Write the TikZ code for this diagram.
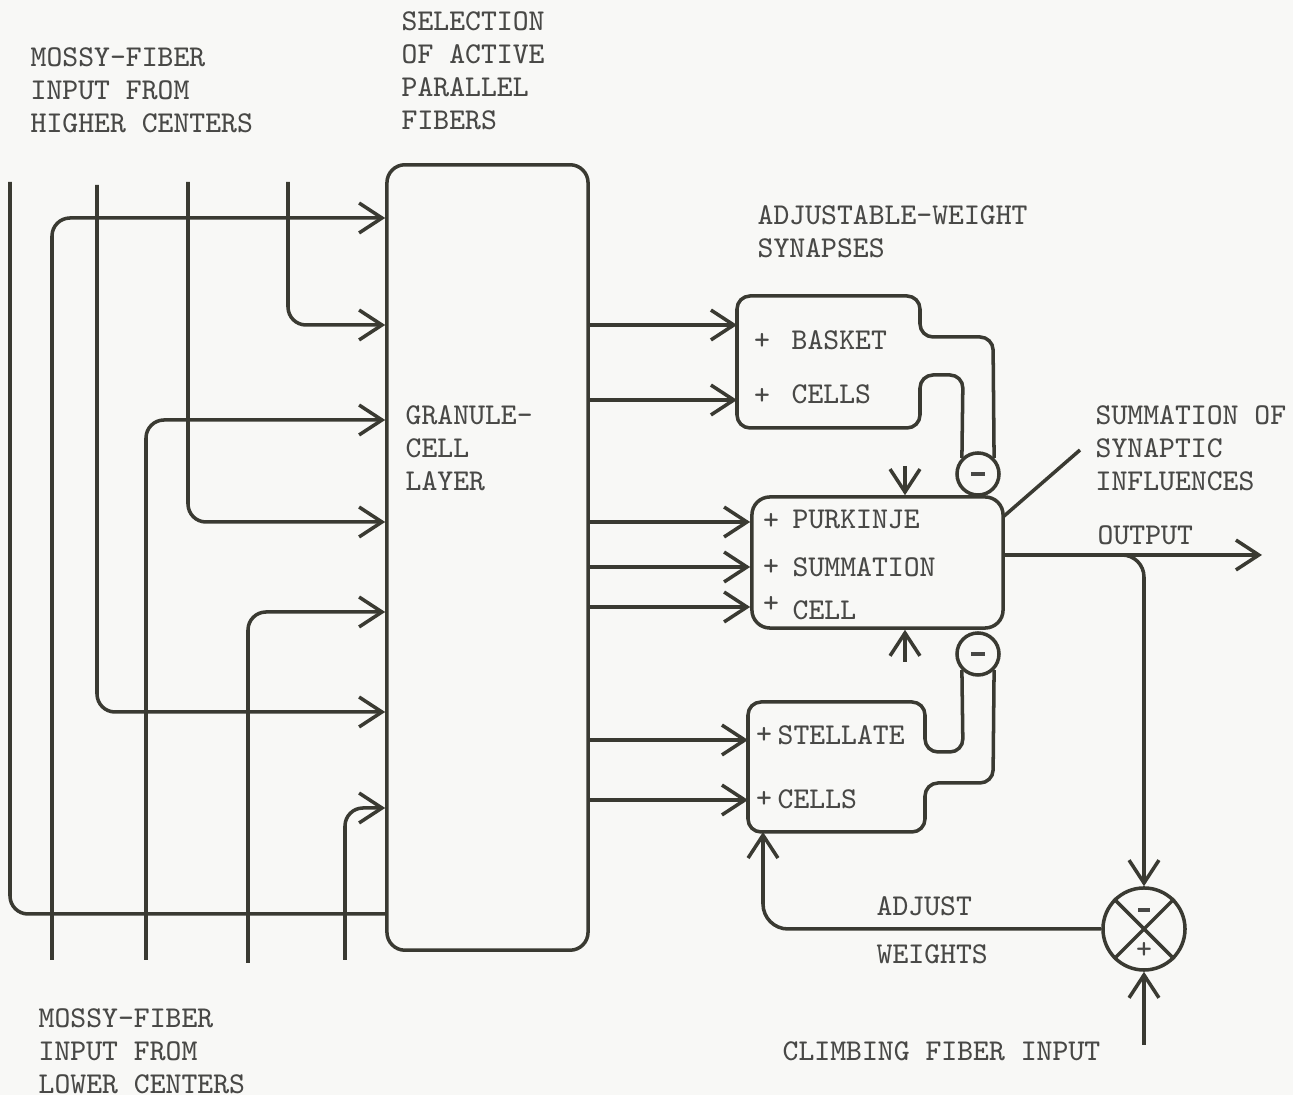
\documentclass[tikz,border=0pt]{standalone}
\usepackage{fontspec}
\usetikzlibrary{arrows.meta}
\definecolor{ink}{RGB}{58,58,50}
\definecolor{txt}{RGB}{72,72,70}
\definecolor{paper}{RGB}{248,248,246}
\newcommand\twf{\ttfamily\fontsize{8.6}{9.4}\selectfont\addfontfeatures{FakeBold=0.6}}
\begin{document}
\begin{tikzpicture}[x=0.01cm,y=-0.01cm,
  wire/.style={draw=ink,line width=1pt,rounded corners=0.18cm},
  arr/.style={-{Straight Barb[length=6.5pt,width=8.5pt]}},
  lbl/.style={text=txt,font=\twf,inner sep=0pt,align=left,anchor=north west},
  wrd/.style={text=txt,font=\twf,inner sep=0pt,anchor=west},
  sgn/.style={text=txt,font=\twf,inner sep=0pt,anchor=center},
  cellbox/.style={draw=ink,line width=1pt,rounded corners=0.18cm,rectangle,inner sep=0pt},
  bulb/.style={draw=ink,line width=1pt,circle,inner sep=0pt,minimum size=0.42cm}]
\fill[paper] (0,0) rectangle (1293,1095);
\useasboundingbox (0,0) rectangle (1293,1095);

% granule-cell layer
\node[cellbox,minimum width=2.01cm,minimum height=7.85cm] (gran) at (487.5,557.5) {};

% mossy fibres from higher centres (top)
\coordinate (hiA) at (10,182);
\coordinate (hiB) at (97,185);
\coordinate (hiC) at (188,182);
\coordinate (hiD) at (288,182);
\draw[wire] (hiA) |- (gran.west |- 0,914);
\draw[wire,arr] (hiB) |- (gran.west |- 0,712);
\draw[wire,arr] (hiC) |- (gran.west |- 0,522);
\draw[wire,arr] (hiD) |- (gran.west |- 0,325);
% mossy fibres from lower centres (bottom)
\coordinate (loA) at (52,960);
\coordinate (loB) at (146,960);
\coordinate (loC) at (248,963);
\coordinate (loD) at (345,960);
\draw[wire,arr] (loA) |- (gran.west |- 0,218);
\draw[wire,arr] (loB) |- (gran.west |- 0,420);
\draw[wire,arr] (loC) |- (gran.west |- 0,612);
\draw[wire,arr] (loD) |- (gran.west |- 0,808);

% inhibitory bulbs
\node[bulb] (inhA) at (978,474) {};
\node[bulb] (inhB) at (978,654) {};
\draw[txt,line width=1pt] ([xshift=-0.07cm]inhA.center) -- ([xshift=0.07cm]inhA.center);
\draw[txt,line width=1pt] ([xshift=-0.07cm]inhB.center) -- ([xshift=0.07cm]inhB.center);

% basket cells
\node (basket) at (828,362) {};
\draw[wire,rounded corners=0.13cm] (inhA.135) -- (963,375) -- (920,375) -- (920,428) -- (737,428) -- (737,296) -- (920,296) -- (920,337) -- (993,337) -- (inhA.45);
% Purkinje cell
\node[cellbox,minimum width=2.51cm,minimum height=1.31cm] (purk) at (877.5,562.5) {};
% stellate cells
\node (stell) at (836,767) {};
\draw[wire,rounded corners=0.13cm] (inhB.225) -- (963,752) -- (925,752) -- (925,702) -- (748,702) -- (748,832) -- (925,832) -- (925,783) -- (993,783) -- (inhB.315);

% parallel fibres
\draw[wire,arr] (gran.east |- 0,325) -- (737,325);
\draw[wire,arr] (gran.east |- 0,400) -- (737,400);
\draw[wire,arr] (gran.east |- 0,522) -- (purk.west |- 0,522);
\draw[wire,arr] (gran.east |- 0,567) -- (purk.west |- 0,567);
\draw[wire,arr] (gran.east |- 0,607) -- (purk.west |- 0,607);
\draw[wire,arr] (gran.east |- 0,740) -- (748,740);
\draw[wire,arr] (gran.east |- 0,800) -- (748,800);

% small arrows into Purkinje cell
\coordinate (pt) at (905,466);
\coordinate (pb) at (905,662);
\draw[wire,arr] (pt) -- (purk.north -| pt);
\draw[wire,arr] (pb) -- (purk.south -| pb);

% comparator
\node[draw=ink,line width=1pt,circle,inner sep=0pt,minimum size=0.82cm] (comp) at (1144,929) {};
\draw[ink,line width=1pt] (comp.45) -- (comp.225) (comp.135) -- (comp.315);
\coordinate (cmin) at (1144,910);
\draw[txt,line width=0.9pt] ([xshift=-0.06cm]cmin) -- ([xshift=0.06cm]cmin);
\node[sgn] (cplus) at (1144,950) {+};

% output
\coordinate (outend) at (1262,555);
\draw[wire,arr] (purk.east |- outend) -- (outend);
\draw[wire,arr,rounded corners=0.22cm] (1105,555) -| (comp.north);
% adjust weights
\draw[wire,arr,rounded corners=0.25cm] (comp.west) -| (763,832);
% climbing fibre
\coordinate (climb) at (1144,1045);
\draw[wire,arr] (climb) -- (comp.south);
% leader
\coordinate (lead) at (1080,450);
\draw[wire] (1003,517) -- (lead);

% labels
\node[lbl] (tmhi) at (30,47) {MOSSY-FIBER\\INPUT FROM\\HIGHER CENTERS};
\node[lbl] (tsel) at (401,11) {SELECTION\\OF ACTIVE\\PARALLEL\\FIBERS};
\node[lbl] (tadj) at (757,205) {ADJUSTABLE-WEIGHT\\SYNAPSES};
\node[lbl] (tgran) at (405,405) {GRANULE-\\CELL\\LAYER};
\node[lbl] (tsum) at (1095,405) {SUMMATION OF\\SYNAPTIC\\INFLUENCES};
\node[wrd] (tout) at (1097,535) {OUTPUT};
\node[lbl] (tmlo) at (38,1008) {MOSSY-FIBER\\INPUT FROM\\LOWER CENTERS};
\node[wrd] (tclimb) at (782,1051) {CLIMBING FIBER INPUT};
\node[wrd] (tadjw) at (876,906) {ADJUST};
\node[wrd] (tweig) at (876,954) {WEIGHTS};

\node[sgn] (bp1) at (762,341) {+};
\node[sgn] (bp2) at (762,396) {+};
\node[wrd] (tbas) at (791,340) {BASKET};
\node[wrd] (tbc) at (791,394) {CELLS};

\node[sgn] (pp1) at (771,521) {+};
\node[sgn] (pp2) at (771,567) {+};
\node[sgn] (pp3) at (771,604) {+};
\node[wrd] (tpur) at (792,519) {PURKINJE};
\node[wrd] (tpsum) at (792,567) {SUMMATION};
\node[wrd] (tpcell) at (792,610) {CELL};

\node[sgn] (sp1) at (764,735) {+};
\node[sgn] (sp2) at (764,799) {+};
\node[wrd] (tst) at (777,735) {STELLATE};
\node[wrd] (tsc) at (777,799) {CELLS};
\end{tikzpicture}
\end{document}
